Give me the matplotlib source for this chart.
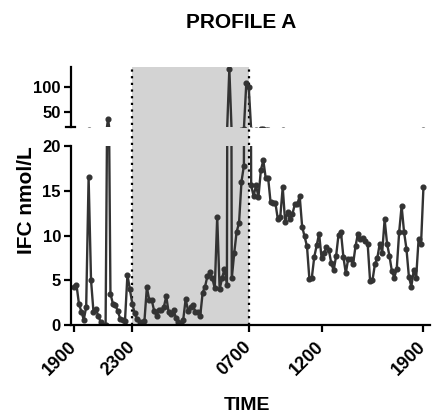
import numpy as np
import matplotlib
matplotlib.use("Agg")
import matplotlib.pyplot as plt

plt.rcParams['font.family'] = ['Liberation Sans', 'DejaVu Sans']
plt.rcParams['font.weight'] = 'bold'

# urinary free cortisol, one sample every 10 min from 1900 to 1900
ifc = [4.2, 4.5, 2.4, 1.5, 0.6, 2.0, 16.5, 5.0, 1.5, 1.8,
       1.0, 0.3, 0.0, 0.0, 37.0, 3.5, 2.4, 2.2, 1.6, 0.7,
       0.6, 0.5, 5.6, 4.0, 2.4, 1.3, 0.7, 0.3, 0.2, 0.4,
       4.2, 2.8, 2.8, 1.6, 1.0, 1.7, 1.7, 2.0, 3.2, 1.4,
       1.2, 1.7, 0.8, 0.3, 0.1, 0.6, 2.9, 1.6, 2.0, 2.2,
       1.5, 1.5, 1.0, 3.6, 4.3, 5.5, 5.9, 5.2, 4.1, 12.1,
       4.0, 5.2, 6.3, 4.5, 135.0, 5.2, 8.0, 10.4, 11.4, 16.0,
       17.8, 108.0, 99.0, 15.6, 14.4, 15.6, 14.3, 17.3, 18.4, 16.4,
       16.4, 13.7, 13.6, 13.6, 11.8, 12.1, 15.4, 11.5, 12.6, 11.8,
       12.4, 13.5, 13.5, 14.4, 11.0, 9.9, 8.8, 5.1, 5.3, 7.6,
       8.9, 10.2, 7.5, 8.0, 8.7, 8.4, 6.9, 6.1, 7.7, 10.1,
       10.4, 7.6, 5.8, 7.4, 7.4, 6.8, 8.8, 10.2, 9.6, 9.7,
       9.4, 9.1, 4.95, 5.0, 6.8, 7.5, 9.1, 8.1, 11.8, 9.1,
       7.7, 6.0, 5.3, 6.3, 10.4, 13.3, 10.4, 8.5, 5.4, 4.3,
       6.1, 5.3, 9.6, 9.0, 15.4]
sample_min = 10

tick_hours = [0, 4, 12, 17, 24]
tick_labels = ['1900', '2300', '0700', '1200', '1900']
night = (4, 12)  # 2300 -> 0700

hours = np.arange(len(ifc)) * sample_min / 60.0
W, H = 433, 416
col = '#333333'

fig = plt.figure(figsize=(W / 100, H / 100), dpi=100)
left = 70.7 / W
width = (430 - 70.7) / W
xlim = (-0.23, 24.45)

bg = fig.add_axes([left, 1 - 325 / H, width, (325 - 67.3) / H])
lo = fig.add_axes([left, 1 - 325 / H, width, 179 / H])
hi = fig.add_axes([left, 1 - 126.7 / H, width, 59.4 / H])

bg.set_xlim(xlim)
bg.set_ylim(0, 1)
bg.axvspan(night[0], night[1], color='#d3d3d3', lw=0)
for t in night:
    bg.axvline(t, color='black', ls=(0, (1, 2)), lw=1.6)
bg.axis('off')

for ax in (lo, hi):
    ax.patch.set_alpha(0)
    ax.plot(hours, ifc, color=col, lw=1.7, marker='o', ms=3.4,
            mfc=col, mec=col)
    ax.set_xlim(xlim)
    ax.spines['top'].set_visible(False)
    ax.spines['right'].set_visible(False)
    ax.spines['left'].set_linewidth(1.6)
    ax.spines['bottom'].set_linewidth(1.6)
    ax.tick_params(width=1.6, length=5, pad=2, labelsize=12)

lo.set_ylim(0, 20)
lo.set_yticks([0, 5, 10, 15, 20])
lo.set_xticks(tick_hours)
lo.set_xticklabels(tick_labels, rotation=45, ha='right', va='center',
                   rotation_mode='anchor')
lo.tick_params(axis='x', pad=9, labelsize=13)

hi.set_ylim(22, 138)
hi.set_yticks([50, 100])
hi.spines['bottom'].set_visible(False)
hi.set_xticks([])
hi.plot([-0.012, 0.012], [0, 0], transform=hi.transAxes, color='black',
        lw=1.6, clip_on=False)

fig.text(247 / W, 1 - 405 / H, 'TIME', fontsize=14, fontweight='bold',
         ha='center', va='center')
fig.text(27 / W, 1 - 200 / H, 'IFC nmol/L', rotation=90, fontsize=15,
         fontweight='bold', ha='center', va='center')
fig.text(241 / W, 1 - 22 / H, 'PROFILE A', fontsize=15, fontweight='bold',
         ha='center', va='center')

fig.savefig('out.png', dpi=100)
